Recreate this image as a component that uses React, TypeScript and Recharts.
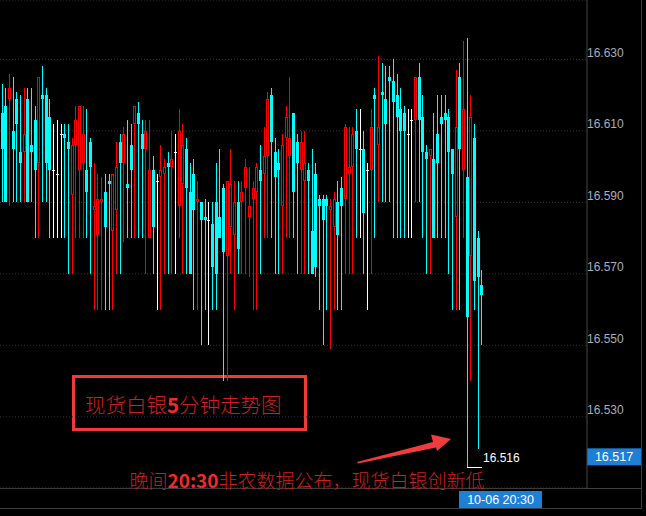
import React from "react";
import {
  ComposedChart,
  Bar,
  XAxis,
  YAxis,
  CartesianGrid,
  ReferenceLine,
} from "recharts";

// 现货白银 5 分钟 K 线，10-06 10:00 起
const OPEN = [
  16.615, 16.617, 16.619, 16.610, 16.619, 16.604, 16.604, 16.619, 16.606, 16.613,
  16.601, 16.620, 16.620, 16.614, 16.599, 16.598, 16.609, 16.609, 16.607, 16.592,
  16.606, 16.599, 16.601, 16.599, 16.607, 16.588, 16.581, 16.590, 16.593, 16.596,
  16.582, 16.588, 16.607, 16.601, 16.595, 16.606, 16.612, 16.615, 16.609, 16.605,
  16.580, 16.599, 16.596, 16.597, 16.598, 16.601, 16.600, 16.604, 16.589, 16.595,
  16.605, 16.593, 16.598, 16.590, 16.590, 16.586, 16.585, 16.584, 16.590, 16.586,
  16.594, 16.575, 16.583, 16.581, 16.590, 16.590, 16.594, 16.586, 16.591, 16.593,
  16.599, 16.598, 16.603, 16.620, 16.604, 16.601, 16.589, 16.608, 16.603, 16.615,
  16.607, 16.599, 16.596, 16.599, 16.582, 16.598, 16.591, 16.591, 16.591, 16.588,
  16.583, 16.590, 16.594, 16.591, 16.598, 16.600, 16.610, 16.605, 16.605, 16.599,
  16.599, 16.620, 16.606, 16.621, 16.619, 16.625, 16.624, 16.620, 16.616, 16.615,
  16.609, 16.613, 16.613, 16.625, 16.614, 16.604, 16.603, 16.602, 16.609, 16.614,
  16.615, 16.614, 16.605, 16.586, 16.625, 16.599, 16.597, 16.575, 16.608, 16.580,
  16.567,
];

const HIGH = [
  16.623, 16.622, 16.626, 16.625, 16.621, 16.620, 16.622, 16.622, 16.622, 16.617,
  16.625, 16.628, 16.622, 16.619, 16.612, 16.613, 16.612, 16.612, 16.612, 16.608,
  16.617, 16.617, 16.617, 16.616, 16.608, 16.601, 16.598, 16.597, 16.598, 16.598,
  16.598, 16.607, 16.609, 16.611, 16.613, 16.612, 16.617, 16.618, 16.613, 16.613,
  16.613, 16.603, 16.598, 16.606, 16.602, 16.604, 16.610, 16.609, 16.616, 16.612,
  16.608, 16.601, 16.602, 16.596, 16.590, 16.591, 16.590, 16.590, 16.601, 16.605,
  16.595, 16.596, 16.605, 16.596, 16.596, 16.596, 16.602, 16.600, 16.596, 16.601,
  16.606, 16.611, 16.621, 16.622, 16.608, 16.605, 16.609, 16.617, 16.625, 16.615,
  16.609, 16.610, 16.610, 16.601, 16.605, 16.601, 16.592, 16.592, 16.592, 16.591,
  16.593, 16.596, 16.597, 16.612, 16.611, 16.611, 16.616, 16.616, 16.610, 16.601,
  16.616, 16.622, 16.631, 16.629, 16.628, 16.628, 16.630, 16.626, 16.622, 16.617,
  16.616, 16.616, 16.625, 16.629, 16.620, 16.606, 16.605, 16.615, 16.620, 16.620,
  16.620, 16.616, 16.605, 16.627, 16.629, 16.635, 16.636, 16.620, 16.612, 16.582,
  16.571,
];

const LOW = [
  16.590, 16.590, 16.589, 16.590, 16.590, 16.590, 16.590, 16.590, 16.590, 16.580,
  16.580, 16.590, 16.590, 16.580, 16.580, 16.580, 16.580, 16.580, 16.570, 16.570,
  16.580, 16.580, 16.580, 16.580, 16.570, 16.560, 16.560, 16.560, 16.560, 16.560,
  16.560, 16.570, 16.570, 16.579, 16.580, 16.580, 16.580, 16.580, 16.580, 16.570,
  16.580, 16.570, 16.560, 16.560, 16.570, 16.570, 16.570, 16.570, 16.580, 16.570,
  16.570, 16.570, 16.560, 16.560, 16.550, 16.560, 16.550, 16.560, 16.560, 16.580,
  16.540, 16.540, 16.570, 16.560, 16.570, 16.570, 16.570, 16.569, 16.560, 16.560,
  16.570, 16.580, 16.580, 16.580, 16.570, 16.570, 16.570, 16.580, 16.580, 16.580,
  16.570, 16.570, 16.570, 16.570, 16.570, 16.569, 16.560, 16.550, 16.560, 16.549,
  16.560, 16.560, 16.560, 16.570, 16.570, 16.570, 16.580, 16.580, 16.570, 16.560,
  16.570, 16.580, 16.590, 16.590, 16.590, 16.590, 16.580, 16.580, 16.580, 16.580,
  16.580, 16.580, 16.590, 16.590, 16.580, 16.570, 16.570, 16.580, 16.580, 16.580,
  16.580, 16.570, 16.560, 16.560, 16.560, 16.580, 16.516, 16.540, 16.560, 16.521,
  16.550,
];

const CLOSE = [
  16.605, 16.590, 16.622, 16.605, 16.612, 16.601, 16.609, 16.590, 16.604, 16.599,
  16.625, 16.619, 16.601, 16.599, 16.599, 16.598, 16.609, 16.608, 16.605, 16.606,
  16.613, 16.617, 16.609, 16.593, 16.600, 16.589, 16.591, 16.591, 16.583, 16.595,
  16.598, 16.600, 16.601, 16.609, 16.594, 16.599, 16.617, 16.612, 16.605, 16.610,
  16.599, 16.583, 16.596, 16.599, 16.600, 16.600, 16.602, 16.604, 16.610, 16.606,
  16.594, 16.570, 16.588, 16.591, 16.585, 16.585, 16.585, 16.572, 16.570, 16.580,
  16.576, 16.596, 16.595, 16.590, 16.577, 16.593, 16.600, 16.589, 16.594, 16.600,
  16.596, 16.603, 16.619, 16.607, 16.597, 16.599, 16.606, 16.614, 16.608, 16.593,
  16.601, 16.607, 16.601, 16.596, 16.570, 16.572, 16.589, 16.585, 16.589, 16.589,
  16.591, 16.581, 16.589, 16.611, 16.600, 16.609, 16.605, 16.605, 16.587, 16.599,
  16.611, 16.619, 16.611, 16.620, 16.612, 16.624, 16.618, 16.614, 16.610, 16.610,
  16.609, 16.613, 16.625, 16.613, 16.604, 16.602, 16.605, 16.580, 16.601, 16.612,
  16.613, 16.604, 16.598, 16.611, 16.605, 16.616, 16.558, 16.614, 16.568, 16.569,
  16.564,
];

const Y_TICKS = [16.53, 16.55, 16.57, 16.59, 16.61, 16.63];
const Y_DOMAIN = [16.5101, 16.6466];
const DAY = "10-06";
const FIRST_BAR_MINUTE = 10 * 60;
const BAR_MINUTES = 5;
const SLOT_COUNT = 159; // leaves blank room on the right
const MARK_TIME = "10-06 20:30";
const LAST_PRICE = 16.517;

const UP = "#ff0000";
const DOWN = "#00ffff";
const FLAT = "#ffffff";
const TAG_BLUE = "#1e7fd6";
const NOTE_RED = "#cc1f1f";
const NOTE_BOLD = "#f22a2a";
const AXIS_FONT = "'Liberation Sans', Arial, sans-serif";
const CJK_FONT = "'Noto Sans CJK SC', sans-serif";

const pad = (n: number) => String(n).padStart(2, "0");
const lowestIndex = LOW.indexOf(Math.min(...LOW));

const data = Array.from({ length: SLOT_COUNT }, (_, i) => {
  const m = FIRST_BAR_MINUTE + i * BAR_MINUTES;
  const time = `${DAY} ${pad(Math.floor(m / 60))}:${pad(m % 60)}`;
  if (i >= OPEN.length) return { time };
  return {
    time,
    open: OPEN[i],
    high: HIGH[i],
    low: LOW[i],
    close: CLOSE[i],
    range: [LOW[i], HIGH[i]],
    lowest: i === lowestIndex,
  };
});

function Candle(props: any) {
  const { x, y, width, height, payload } = props;
  if (!payload || payload.high == null) return null;
  const { open, close, high, low } = payload;
  const top = Math.min(y, y + height);
  const h = Math.abs(height);
  const k = high > low ? h / (high - low) : 0;
  const py = (v: number) => Math.round(top + (high - v) * k);
  const cx = Math.floor(x + width / 2);
  const wx = cx + 0.5;
  const yHigh = py(high);
  const yLow = py(low);

  let body;
  if (close > open) {
    // rising bar: hollow red
    const bt = py(close);
    const bb = py(open);
    body = (
      <g>
        <line x1={wx} x2={wx} y1={yHigh} y2={bt} stroke={UP} />
        <line x1={wx} x2={wx} y1={bb} y2={yLow} stroke={UP} />
        <rect x={cx - 0.5} y={bt + 0.5} width={2} height={Math.max(bb - bt - 1, 0)} fill="none" stroke={UP} />
      </g>
    );
  } else if (close < open) {
    const bt = py(open);
    const bb = py(close);
    body = (
      <g>
        <line x1={wx} x2={wx} y1={yHigh} y2={yLow} stroke={DOWN} />
        <rect x={cx - 1} y={bt} width={3} height={Math.max(bb - bt, 1)} fill={DOWN} />
      </g>
    );
  } else {
    const yo = py(open) + 0.5;
    body = (
      <g>
        <line x1={wx} x2={wx} y1={yHigh} y2={yLow} stroke={FLAT} />
        <line x1={cx - 1} x2={cx + 2} y1={yo} y2={yo} stroke={FLAT} />
      </g>
    );
  }

  return (
    <g shapeRendering="crispEdges">
      {body}
      {payload.lowest && (
        <g>
          <line x1={cx} x2={cx + 15} y1={yLow + 0.5} y2={yLow + 0.5} stroke={FLAT} />
          <text x={cx + 16} y={yLow - 5} fill={FLAT} fontSize={12} fontFamily={AXIS_FONT}>
            {low.toFixed(3)}
          </text>
        </g>
      )}
    </g>
  );
}

function PriceTick({ x, y, payload }: any) {
  return (
    <text x={x} y={y - 2.5} fill="#a6aebb" fontSize={12} fontFamily={AXIS_FONT} textAnchor="start">
      {Number(payload.value).toFixed(3)}
    </text>
  );
}

function TimeTick({ x, y, payload }: any) {
  return (
    <g>
      <rect x={x - 8} y={y + 3} width={83} height={17} fill={TAG_BLUE} />
      <text x={x + 33.5} y={y + 16} textAnchor="middle" fill="#fff" fontSize={12.5} fontFamily={AXIS_FONT}>
        {payload.value}
      </text>
    </g>
  );
}

function PriceTag({ viewBox }: any) {
  if (!viewBox) return null;
  const right = viewBox.x + viewBox.width;
  const y = viewBox.y;
  return (
    <g>
      <rect x={right} y={y - 15} width={54} height={17} fill={TAG_BLUE} />
      <text x={right + 27} y={y - 2.5} textAnchor="middle" fill="#fff" fontSize={12.5} fontFamily={AXIS_FONT}>
        {LAST_PRICE.toFixed(3)}
      </text>
    </g>
  );
}

export default function App() {
  return (
    <div style={{ position: "relative", width: 646, height: 516, background: "#000", overflow: "hidden" }}>
      <style>{"body{margin:0;background:#000}"}</style>

      {/* frame and hand-drawn notes, under the candles */}
      <svg width={646} height={516} style={{ position: "absolute", left: 0, top: 0 }}>
        <g shapeRendering="crispEdges" stroke="#3c3c3c">
          <line x1={0} x2={642} y1={488.5} y2={488.5} />
          <line x1={0} x2={642} y1={508.5} y2={508.5} />
          <line x1={641.5} x2={641.5} y1={0} y2={509} />
        </g>
        <rect x={73.5} y={376.5} width={232} height={53} fill="none" stroke="#f03a3a" strokeWidth={3} />
        <text x={85} y={412.5} fill={NOTE_RED} fontSize={20.5} fontWeight={300} fontFamily={CJK_FONT}>
          现货白银<tspan fontWeight="bold" fill={NOTE_BOLD}>5</tspan>分钟走势图
        </text>
        <text x={129.5} y={488} fill={NOTE_RED} fontSize={19} fontWeight={300} fontFamily={CJK_FONT}>
          晚间<tspan fontWeight="bold" fill={NOTE_BOLD}>20:30</tspan>非农数据公布，现货白银创新低
        </text>
        <polygon
          points="357,462 433,442 431,434.5 451,439 437,451 436,447.5 358,463.5"
          fill="#f03c3c"
        />
      </svg>

      <div style={{ position: "absolute", left: 0, top: 0 }}>
        <ComposedChart
          width={646}
          height={516}
          data={data}
          margin={{ top: 0, right: 5, bottom: 8, left: 0 }}
          barCategoryGap={0}
        >
          <CartesianGrid vertical={false} stroke="#363636" strokeDasharray="1 2" />
          <XAxis
            dataKey="time"
            type="category"
            height={20}
            ticks={[MARK_TIME]}
            interval={0}
            tick={<TimeTick />}
            tickLine={false}
            tickSize={0}
            tickMargin={0}
            axisLine={false}
          />
          <YAxis
            orientation="right"
            type="number"
            width={54}
            domain={Y_DOMAIN}
            allowDataOverflow
            ticks={Y_TICKS}
            interval={0}
            tick={<PriceTick />}
            tickLine={false}
            tickSize={0}
            tickMargin={0}
            axisLine={{ stroke: "#454545" }}
          />
          <ReferenceLine y={LAST_PRICE} stroke="none" label={<PriceTag />} />
          <Bar dataKey="range" shape={Candle} isAnimationActive={false} />
        </ComposedChart>
      </div>
    </div>
  );
}
